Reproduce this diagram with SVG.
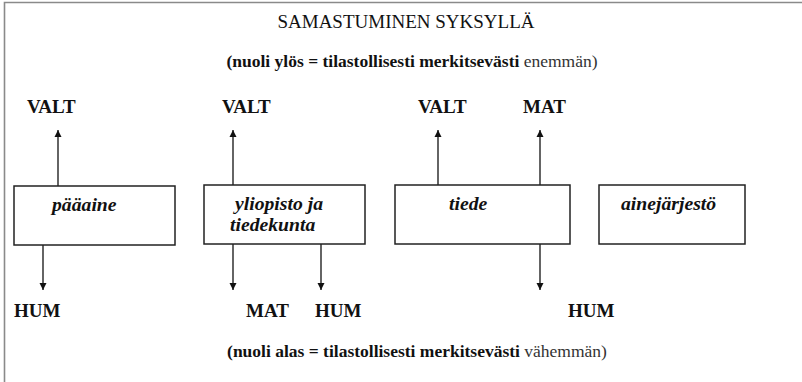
<svg xmlns="http://www.w3.org/2000/svg" width="802" height="382" viewBox="0 0 802 382" font-family="Liberation Serif, serif">
<style>
.frame{stroke:#8a8a8a;stroke-width:1.6;fill:none}
.box{fill:#fff;stroke:#222;stroke-width:1.5}
.edge{stroke:#111;stroke-width:1.3;fill:none}
.title{font-size:19px;fill:#111}
.sub{font-size:17.5px;font-weight:bold;fill:#111}
.reg{font-weight:normal;fill:#333}
.lbl{font-size:19px;font-weight:bold;fill:#111}
.nt{font-size:19.7px;font-weight:bold;font-style:italic;fill:#111}
</style>
<defs>
<marker id="ah" viewBox="0 0 10 10" refX="10" refY="5" markerWidth="7" markerHeight="8" markerUnits="userSpaceOnUse" orient="auto">
<path d="M0,0 L10,5 L0,10 z" fill="#111"/>
</marker>
</defs>
<rect width="802" height="382" fill="#fff"/>
<path class="frame" d="M4.5,382 V2.5 H802"/>
<g id="title">
<text class="title" x="406" y="28" text-anchor="middle">SAMASTUMINEN SYKSYLLÄ</text>
</g>
<g id="legend-up">
<text class="sub" x="412" y="67" text-anchor="middle">(nuoli ylös = tilastollisesti merkitsevästi <tspan class="reg">enemmän)</tspan></text>
</g>
<g id="legend-down">
<text class="sub" x="417" y="357" text-anchor="middle">(nuoli alas = tilastollisesti merkitsevästi <tspan class="reg">vähemmän)</tspan></text>
</g>
<g id="connectors">
<line class="edge" x1="58" y1="186" x2="58" y2="130" marker-end="url(#ah)"/>
<line class="edge" x1="233" y1="185" x2="233" y2="130" marker-end="url(#ah)"/>
<line class="edge" x1="438" y1="185" x2="438" y2="130" marker-end="url(#ah)"/>
<line class="edge" x1="540" y1="185" x2="540" y2="130" marker-end="url(#ah)"/>
<line class="edge" x1="43" y1="245" x2="43" y2="290" marker-end="url(#ah)"/>
<line class="edge" x1="233" y1="244" x2="233" y2="290" marker-end="url(#ah)"/>
<line class="edge" x1="321" y1="244" x2="321" y2="290" marker-end="url(#ah)"/>
<line class="edge" x1="540" y1="244" x2="540" y2="290" marker-end="url(#ah)"/>
</g>
<g id="paaaine">
<rect class="box" x="14" y="186" width="161" height="59"/>
<text class="nt" x="52" y="211">pääaine</text>
</g>
<g id="yliopisto">
<rect class="box" x="204" y="185" width="161" height="59"/>
<text class="nt" x="235" y="210">yliopisto ja</text>
<text class="nt" x="230" y="231">tiedekunta</text>
</g>
<g id="tiede">
<rect class="box" x="395" y="185" width="175" height="59"/>
<text class="nt" x="449" y="210">tiede</text>
</g>
<g id="ainejarjesto">
<rect class="box" x="599" y="185" width="146" height="59"/>
<text class="nt" x="621" y="210">ainejärjestö</text>
</g>
<g id="valt1"><text class="lbl" x="27" y="113">VALT</text></g>
<g id="valt2"><text class="lbl" x="222" y="113">VALT</text></g>
<g id="valt3"><text class="lbl" x="418" y="113">VALT</text></g>
<g id="mat-up"><text class="lbl" x="523" y="113">MAT</text></g>
<g id="hum1"><text class="lbl" x="14" y="317">HUM</text></g>
<g id="mat-down"><text class="lbl" x="246" y="317">MAT</text></g>
<g id="hum2"><text class="lbl" x="315" y="317">HUM</text></g>
<g id="hum3"><text class="lbl" x="568" y="317">HUM</text></g>
</svg>
